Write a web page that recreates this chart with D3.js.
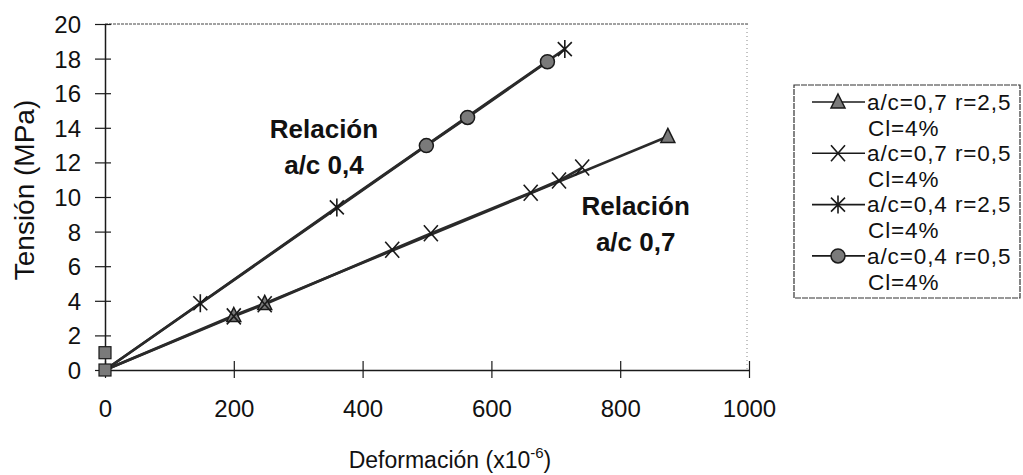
<!DOCTYPE html>
<html><head><meta charset="utf-8">
<script src="https://cdn.jsdelivr.net/npm/d3@7"></script>
<style>
body{margin:0;background:#fff;}
svg{display:block;font-family:"Liberation Sans",Arial,sans-serif;}
</style></head>
<body>
<svg id="chart" width="1023" height="475"></svg>
<script>
// ---- data ----
const legendLabels = [
  ["a/c=0,7 r=2,5", "Cl=4%"],
  ["a/c=0,7 r=0,5", "Cl=4%"],
  ["a/c=0,4 r=2,5", "Cl=4%"],
  ["a/c=0,4 r=0,5", "Cl=4%"]
];
const markerTypes = ["triangle", "cross", "asterisk", "circle"];
const s1x = [0, 200, 248, 874];
const s1y = [0, 3.15, 3.85, 13.5];
const s2x = [0, 200, 248, 446, 506, 661, 705, 741];
const s2y = [0, 3.1, 3.8, 6.95, 7.9, 10.25, 10.95, 11.7];
const s3x = [0, 148, 360, 714];
const s3y = [0, 3.86, 9.4, 18.55];
const s4x = [0, 499, 563, 687];
const s4y = [0, 12.97, 14.6, 17.82];
const extraX = [0, 0];
const extraY = [0, 1];
const xTicks = [0, 200, 400, 600, 800, 1000];
const yTicks = [0, 2, 4, 6, 8, 10, 12, 14, 16, 18, 20];
const notes = [["Relación", "a/c 0,4", 340, 13.4], ["Relación", "a/c 0,7", 824, 8.95]];

const seriesX = [s1x, s2x, s3x, s4x];
const seriesY = [s1y, s2y, s3y, s4y];

const svg = d3.select("#chart");
const x = d3.scaleLinear().domain([0, 1000]).range([105, 749]);
const y = d3.scaleLinear().domain([0, 20]).range([370, 24]);

const ink = "#1a1a1a", fillG = "#7a7a7a";

// plot frame (top/right dotted)
svg.append("line").attr("x1", x(0)).attr("x2", x(1000)).attr("y1", y(20)).attr("y2", y(20))
  .attr("stroke", "#444").attr("stroke-width", 1.2).attr("stroke-dasharray", "3,1");
svg.append("line").attr("x1", x(1000) - 2).attr("x2", x(1000) - 2).attr("y1", y(20)).attr("y2", y(0))
  .attr("stroke", "#888").attr("stroke-width", 1).attr("stroke-dasharray", "1,3");

// axes
const yAxis = svg.append("g").attr("transform", `translate(${x(0)},0)`)
  .call(d3.axisLeft(y).tickValues(yTicks).tickFormat(d3.format("d")).tickSizeOuter(0));
yAxis.select(".domain").attr("stroke", ink).attr("stroke-width", 1.5);
yAxis.selectAll(".tick line").attr("x1", -10).attr("x2", 6).attr("stroke", ink).attr("stroke-width", 1.2);
yAxis.selectAll(".tick text").attr("x", -24).attr("dy", "0.35em")
  .attr("font-size", 24).attr("fill", "#111").attr("font-family", "Liberation Sans, Arial, sans-serif");

const xAxis = svg.append("g").attr("transform", `translate(0,${y(0)})`)
  .call(d3.axisBottom(x).tickValues(xTicks).tickFormat(d3.format("d")).tickSizeOuter(0));
xAxis.select(".domain").attr("stroke", ink).attr("stroke-width", 1.5);
xAxis.selectAll(".tick line").attr("y1", -9).attr("y2", 8).attr("stroke", ink).attr("stroke-width", 1.2);
xAxis.selectAll(".tick text").attr("y", 47).attr("dy", 0)
  .attr("font-size", 24).attr("fill", "#111").attr("font-family", "Liberation Sans, Arial, sans-serif");

// axis titles
svg.append("text").attr("transform", `translate(34,190) rotate(-90)`).attr("text-anchor", "middle")
  .attr("font-size", 28).attr("fill", "#111").text("Tensión (MPa)");
const xt = svg.append("text").attr("x", 450).attr("y", 468).attr("text-anchor", "middle")
  .attr("font-size", 23).attr("fill", "#111");
xt.append("tspan").text("Deformación (x10");
xt.append("tspan").attr("dy", -10).attr("font-size", 15).text("-6");
xt.append("tspan").attr("dy", 10).text(")");

// markers
function drawMarker(g, type, cx, cy) {
  if (type === "triangle") {
    g.append("path").attr("d", `M${cx},${cy - 8}L${cx + 7},${cy + 6}L${cx - 7},${cy + 6}Z`)
      .attr("fill", fillG).attr("stroke", ink).attr("stroke-width", 1.5);
  } else if (type === "cross") {
    g.append("path").attr("d", `M${cx - 7},${cy - 8}L${cx + 7},${cy + 8}M${cx + 7},${cy - 8}L${cx - 7},${cy + 8}`)
      .attr("stroke", ink).attr("stroke-width", 1.6).attr("fill", "none");
  } else if (type === "asterisk") {
    g.append("path").attr("d", `M${cx - 7},${cy - 7}L${cx + 7},${cy + 7}M${cx + 7},${cy - 7}L${cx - 7},${cy + 7}M${cx},${cy - 9}L${cx},${cy + 9}`)
      .attr("stroke", ink).attr("stroke-width", 1.6).attr("fill", "none");
  } else if (type === "circle") {
    g.append("circle").attr("cx", cx).attr("cy", cy).attr("r", 7)
      .attr("fill", fillG).attr("stroke", ink).attr("stroke-width", 1.5);
  } else if (type === "square") {
    g.append("rect").attr("x", cx - 6).attr("y", cy - 6).attr("width", 12).attr("height", 12)
      .attr("fill", fillG).attr("stroke", ink).attr("stroke-width", 1.2);
  }
}

const line = d3.line().x(d => x(d[0])).y(d => y(d[1]));
const plot = svg.append("g");
seriesX.forEach((xs, i) => {
  const pts = xs.map((v, j) => [v, seriesY[i][j]]);
  plot.append("path").datum(pts).attr("d", line).attr("fill", "none")
    .attr("stroke", "#2a2a2a").attr("stroke-width", 2.6);
});
seriesX.forEach((xs, i) => {
  xs.forEach((v, j) => {
    if (v === 0) return;
    drawMarker(plot, markerTypes[i], x(v), y(seriesY[i][j]));
  });
});
extraX.forEach((v, j) => drawMarker(plot, "square", x(v), y(extraY[j])));

// annotations
notes.forEach(n => {
  const t = svg.append("text").attr("text-anchor", "middle").attr("font-weight", "bold")
    .attr("font-size", 26).attr("fill", "#111");
  t.append("tspan").attr("x", x(n[2])).attr("y", y(n[3])).text(n[0]);
  t.append("tspan").attr("x", x(n[2])).attr("dy", 36).text(n[1]);
});

// legend
const lg = svg.append("g");
lg.append("rect").attr("x", 794).attr("y", 85).attr("width", 226).attr("height", 213)
  .attr("fill", "none").attr("stroke", "#333").attr("stroke-width", 1.2).attr("stroke-dasharray", "6,1");
legendLabels.forEach((lab, i) => {
  const cy = 102 + i * 51.3;
  lg.append("line").attr("x1", 812).attr("x2", 865).attr("y1", cy).attr("y2", cy)
    .attr("stroke", ink).attr("stroke-width", 1.6);
  drawMarker(lg, markerTypes[i], 838, cy);
  lg.append("text").attr("x", 867).attr("y", cy).attr("dy", "0.35em").attr("font-size", 22.5)
    .attr("letter-spacing", 0.9).attr("fill", "#111").text(lab[0]);
  lg.append("text").attr("x", 868).attr("y", cy + 26).attr("dy", "0.35em").attr("font-size", 22.5)
    .attr("letter-spacing", 0.9).attr("fill", "#111").text(lab[1]);
});
</script>
</body></html>
